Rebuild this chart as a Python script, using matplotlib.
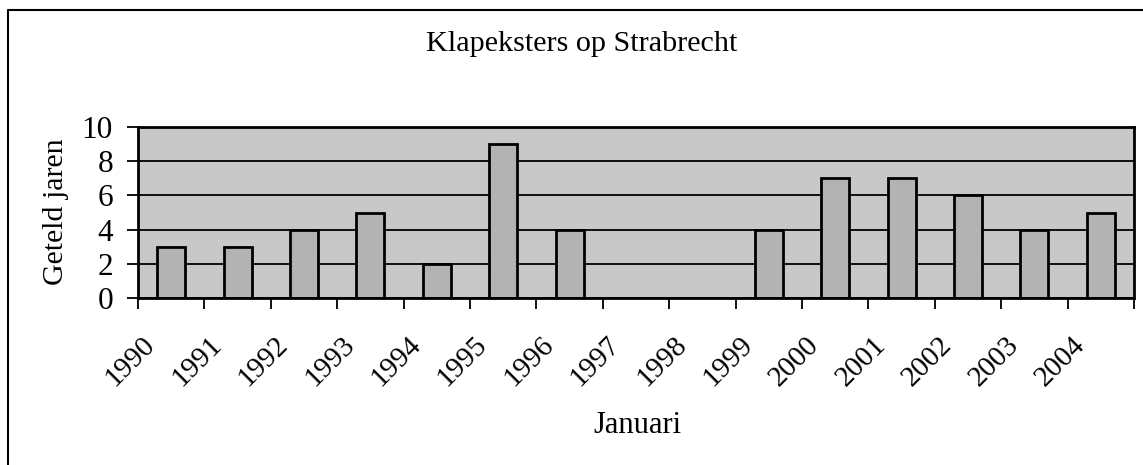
import numpy as np
import matplotlib
matplotlib.use("Agg")
import matplotlib.pyplot as plt
from matplotlib.lines import Line2D
from matplotlib.transforms import ScaledTranslation

plt.rcParams['font.family'] = ['Liberation Serif', 'DejaVu Serif']

jaren = ['1990', '1991', '1992', '1993', '1994', '1995', '1996', '1997',
         '1998', '1999', '2000', '2001', '2002', '2003', '2004']
aantal = [3, 3, 4, 5, 2, 9, 4, 0, 0, 4, 7, 7, 6, 4, 5]
y_ticks = [0, 2, 4, 6, 8, 10]

fig = plt.figure(figsize=(11.43, 4.65), dpi=100)
ax = fig.add_axes([0.1207, 0.3591, 0.8714, 0.3678])
ax.set_facecolor('#c8c8c8')

x = np.arange(len(jaren)) + 0.5
ax.bar(x, aantal, width=0.42, color='#b3b3b3', edgecolor='black',
       linewidth=2, zorder=3)

ax.set_xlim(0, len(jaren))
ax.set_ylim(0, 10)
ax.set_yticks(y_ticks)
ax.yaxis.grid(True, color='black', linewidth=1.3, zorder=1)
ax.set_axisbelow(True)

for s in ax.spines.values():
    s.set_linewidth(2)
    s.set_zorder(4)

# tick marks on category boundaries, labels on category centres
ax.set_xticks(np.arange(len(jaren) + 1))
ax.set_xticklabels([])
ax.set_xticks(x, minor=True)
ax.set_xticklabels(jaren, minor=True, rotation=45, ha='right', va='center',
                   rotation_mode='anchor', fontsize=21)
ax.tick_params(axis='x', which='major', length=8, width=1.3, direction='out')
ax.tick_params(axis='x', which='minor', length=0, pad=31)
ax.tick_params(axis='y', length=8, width=1.3, pad=10, labelsize=22.5)
off = ScaledTranslation(-0.2, 0, fig.dpi_scale_trans)
for lab in ax.get_xticklabels(minor=True):
    lab.set_transform(lab.get_transform() + off)

fig.text(0.509, 0.905, 'Klapeksters op Strabrecht', ha='center', va='center',
         fontsize=21.7)
fig.text(0.049, 0.544, 'Geteld jaren', ha='center', va='center',
         rotation=90, fontsize=21.5)
fig.text(0.558, 0.086, 'Januari', ha='center', va='center', fontsize=22)

# frame round the chart (left and top only)
fig.add_artist(Line2D([0.007, 0.007, 1.0], [0.0, 0.9785, 0.9785],
                      transform=fig.transFigure, color='black', linewidth=1.5))

fig.savefig('out.png', dpi=100)
